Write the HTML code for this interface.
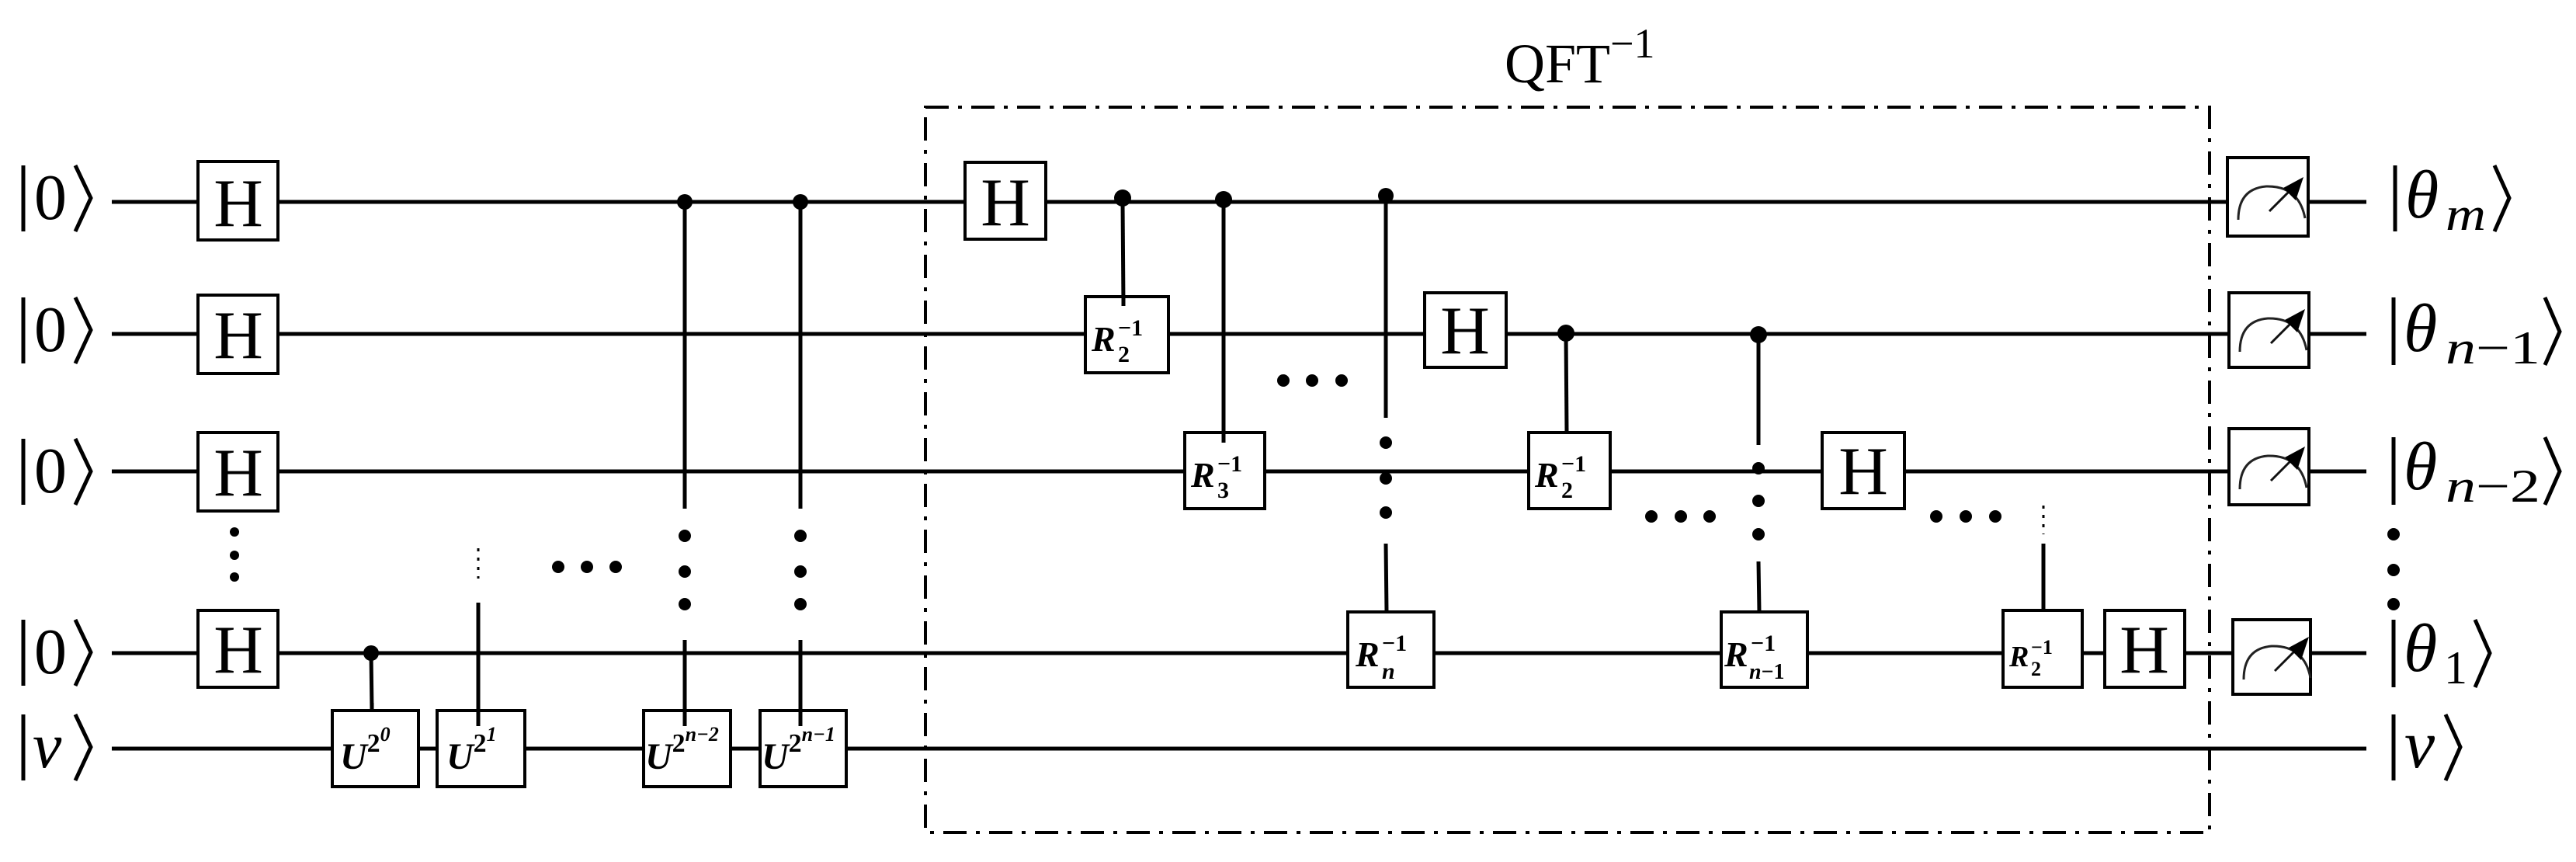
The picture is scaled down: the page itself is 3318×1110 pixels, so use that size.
<!DOCTYPE html>
<html><head><meta charset="utf-8"><style>
html,body{margin:0;padding:0;background:#fff;}
svg{display:block;}
.s{font-family:"Liberation Serif",serif;}
.m{font-family:"Liberation Serif",serif;font-style:italic;}
.b{font-family:"Liberation Serif",serif;font-style:italic;font-weight:bold;}
</style></head><body>
<svg width="3318" height="1110" viewBox="0 0 3318 1110" xmlns="http://www.w3.org/2000/svg">
<g stroke="#000" stroke-width="5" fill="none">
<line x1="144" y1="260" x2="3048" y2="260"/>
<line x1="144" y1="430" x2="3048" y2="430"/>
<line x1="144" y1="607" x2="3048" y2="607"/>
<line x1="144" y1="841" x2="3048" y2="841"/>
<line x1="144" y1="964" x2="3048" y2="964"/>
<line x1="478" y1="841" x2="479" y2="915"/>
<line x1="616" y1="776" x2="616" y2="925"/>
<line x1="882" y1="260" x2="882" y2="655"/>
<line x1="882" y1="824" x2="882" y2="925"/>
<line x1="1031" y1="260" x2="1031" y2="655"/>
<line x1="1031" y1="824" x2="1031" y2="925"/>
<line x1="1446" y1="260" x2="1447" y2="392"/>
<line x1="1576" y1="260" x2="1576" y2="567"/>
<line x1="1785" y1="252" x2="1785" y2="538"/>
<line x1="1785" y1="700" x2="1786" y2="788"/>
<line x1="2017" y1="430" x2="2018" y2="557"/>
<line x1="2265" y1="430" x2="2265" y2="573"/>
<line x1="2265" y1="723" x2="2266" y2="788"/>
<line x1="2632" y1="700" x2="2632" y2="786"/>
</g>
<g stroke="#000" stroke-width="3" stroke-dasharray="4 8" fill="none">
<line x1="616" y1="706" x2="616" y2="745"/>
<line x1="2632" y1="651" x2="2632" y2="688"/>
</g>
<rect x="1192" y="138" width="1654" height="934" fill="none" stroke="#000" stroke-width="4" stroke-dasharray="30 12 5 12"/>
<text x="1938" y="106" class="s" font-size="72">QFT<tspan dy="-32" font-size="54">−1</tspan></text>
<g fill="#fff" stroke="#000" stroke-width="4">
<rect x="255" y="208" width="103" height="101"/>
<rect x="255" y="380" width="103" height="101"/>
<rect x="255" y="557" width="103" height="101"/>
<rect x="255" y="786" width="103" height="99"/>
<rect x="428" y="915" width="111" height="98"/>
<rect x="563" y="915" width="113" height="98"/>
<rect x="829" y="915" width="112" height="98"/>
<rect x="979" y="915" width="111" height="98"/>
<rect x="1243" y="209" width="104" height="99"/>
<rect x="1398" y="382" width="107" height="98"/>
<rect x="1526" y="557" width="103" height="98"/>
<rect x="1736" y="788" width="111" height="97"/>
<rect x="1835" y="377" width="105" height="96"/>
<rect x="1969" y="557" width="105" height="98"/>
<rect x="2217" y="788" width="111" height="97"/>
<rect x="2347" y="557" width="106" height="98"/>
<rect x="2580" y="786" width="102" height="99"/>
<rect x="2711" y="786" width="103" height="99"/>
<rect x="2869" y="203" width="104" height="101"/>
<rect x="2871" y="377" width="103" height="96"/>
<rect x="2871" y="552" width="103" height="98"/>
<rect x="2876" y="798" width="100" height="96"/>
</g>
<g stroke="#000" stroke-width="5">
<line x1="479" y1="905" x2="479" y2="916"/>
<line x1="616" y1="905" x2="616" y2="935"/>
<line x1="882" y1="905" x2="882" y2="935"/>
<line x1="1031" y1="905" x2="1031" y2="935"/>
<line x1="1447" y1="380" x2="1447" y2="394"/>
<line x1="1576" y1="555" x2="1576" y2="570"/>
</g>
<g class="s" font-size="88" text-anchor="middle">
<text x="307" y="291">H</text>
<text x="307" y="461">H</text>
<text x="307" y="638">H</text>
<text x="307" y="866">H</text>
<text x="1295" y="290">H</text>
<text x="1887" y="455">H</text>
<text x="2400" y="636">H</text>
<text x="2762" y="866">H</text>
</g>
<g class="b" font-size="48">
<text x="438" y="990">U<tspan class="s" font-weight="bold" font-style="normal" font-size="34" dy="-22">2</tspan><tspan font-size="26" dy="-14">0</tspan></text>
<text x="575" y="990">U<tspan class="s" font-weight="bold" font-style="normal" font-size="34" dy="-22">2</tspan><tspan font-size="26" dy="-14">1</tspan></text>
<text x="831" y="990">U<tspan class="s" font-weight="bold" font-style="normal" font-size="34" dy="-22">2</tspan><tspan font-size="26" dy="-14">n−2</tspan></text>
<text x="981" y="990">U<tspan class="s" font-weight="bold" font-style="normal" font-size="34" dy="-22">2</tspan><tspan font-size="26" dy="-14">n−1</tspan></text>
</g>
<g class="b" font-size="46">
<text x="1406" y="452">R</text><text x="1440" y="466" font-size="30" font-style="normal">2</text><text x="1440" y="432" font-size="30" font-style="normal">−1</text>
<text x="1534" y="627">R</text><text x="1568" y="641" font-size="30" font-style="normal">3</text><text x="1568" y="607" font-size="30" font-style="normal">−1</text>
<text x="1746" y="858">R</text><text x="1780" y="874" font-size="30">n</text><text x="1780" y="838" font-size="30" font-style="normal">−1</text>
<text x="1977" y="627">R</text><text x="2011" y="641" font-size="30" font-style="normal">2</text><text x="2011" y="607" font-size="30" font-style="normal">−1</text>
<text x="2221" y="858">R</text><text x="2253" y="874" font-size="28">n<tspan font-style="normal">−1</tspan></text><text x="2255" y="838" font-size="30" font-style="normal">−1</text>
<text x="2588" y="858" font-size="38">R</text><text x="2616" y="870" font-size="26" font-style="normal">2</text><text x="2616" y="842" font-size="26" font-style="normal">−1</text>
</g>
<g fill="#000">
<circle cx="478" cy="841" r="10"/>
<circle cx="882" cy="260" r="10"/>
<circle cx="1031" cy="260" r="10"/>
<circle cx="1446" cy="255" r="11"/>
<circle cx="1576" cy="257" r="11"/>
<circle cx="1785" cy="252" r="10"/>
<circle cx="2017" cy="429" r="11"/>
<circle cx="2265" cy="431" r="11"/>
<circle cx="302" cy="685" r="6"/><circle cx="302" cy="715" r="6"/><circle cx="302" cy="743" r="6"/>
<circle cx="719" cy="730" r="8"/><circle cx="756" cy="730" r="8"/><circle cx="793" cy="730" r="8"/>
<circle cx="882" cy="690" r="8"/><circle cx="882" cy="736" r="8"/><circle cx="882" cy="778" r="8"/>
<circle cx="1031" cy="690" r="8"/><circle cx="1031" cy="736" r="8"/><circle cx="1031" cy="778" r="8"/>
<circle cx="1653" cy="490" r="8"/><circle cx="1690" cy="490" r="8"/><circle cx="1728" cy="490" r="8"/>
<circle cx="1785" cy="570" r="8"/><circle cx="1785" cy="616" r="8"/><circle cx="1785" cy="660" r="8"/>
<circle cx="2265" cy="603" r="8"/><circle cx="2265" cy="645" r="8"/><circle cx="2265" cy="688" r="8"/>
<circle cx="2127" cy="665" r="8"/><circle cx="2165" cy="665" r="8"/><circle cx="2202" cy="665" r="8"/>
<circle cx="2494" cy="665" r="8"/><circle cx="2532" cy="665" r="8"/><circle cx="2570" cy="665" r="8"/>
<circle cx="3083" cy="688" r="8"/><circle cx="3083" cy="734" r="8"/><circle cx="3083" cy="778" r="8"/>
</g>
<defs>
<g id="meter">
<path d="M14 80 Q14 40 50 37 Q92 36 100 78" fill="none" stroke="#222" stroke-width="3"/>
<line x1="54" y1="69" x2="86" y2="37" stroke="#111" stroke-width="3"/>
<polygon points="98,25 72,39 88,55" fill="#000"/>
</g>
</defs>
<use href="#meter" x="2869" y="203"/>
<use href="#meter" x="2871" y="373"/>
<use href="#meter" x="2871" y="550"/>
<use href="#meter" x="2876" y="795"/>
<g stroke="#000" stroke-width="5" fill="none">
<line x1="30" y1="213" x2="30" y2="298"/><polyline points="97,213 117,255 97,298"/>
<line x1="30" y1="383" x2="30" y2="468"/><polyline points="97,383 117,425 97,468"/>
<line x1="30" y1="565" x2="30" y2="650"/><polyline points="97,565 117,607 97,650"/>
<line x1="30" y1="798" x2="30" y2="883"/><polyline points="97,798 117,840 97,883"/>
<line x1="30" y1="920" x2="30" y2="1005"/><polyline points="97,920 117,962 97,1005"/>
</g>
<g class="s" font-size="84">
<text x="44" y="282">0</text>
<text x="44" y="452">0</text>
<text x="44" y="634">0</text>
<text x="44" y="867">0</text>
</g>
<text x="42" y="988" class="m" font-size="84">v</text>
<g stroke="#000" stroke-width="5" fill="none">
<line x1="3085" y1="213" x2="3085" y2="298"/><polyline points="3213,213 3232,255 3213,298"/>
<line x1="3083" y1="383" x2="3083" y2="470"/><polyline points="3278,383 3297,427 3278,470"/>
<line x1="3083" y1="563" x2="3083" y2="650"/><polyline points="3278,563 3297,607 3278,650"/>
<line x1="3083" y1="798" x2="3083" y2="885"/><polyline points="3188,798 3207,841 3188,885"/>
<line x1="3083" y1="920" x2="3083" y2="1005"/><polyline points="3150,920 3169,962 3150,1005"/>
</g>
<g class="m" font-size="88">
<text x="3098" y="280">θ</text>
<text x="3096" y="452">θ</text>
<text x="3096" y="630">θ</text>
<text x="3096" y="864">θ</text>
<text x="3097" y="988">v</text>
</g>
<g class="m" font-size="60">
<text x="3150" y="296" textLength="52" lengthAdjust="spacingAndGlyphs">m</text>
<text x="3150" y="468" textLength="122" lengthAdjust="spacingAndGlyphs">n<tspan class="s" font-style="normal">−1</tspan></text>
<text x="3150" y="646" textLength="122" lengthAdjust="spacingAndGlyphs">n<tspan class="s" font-style="normal">−2</tspan></text>
<text x="3148" y="880" class="s" font-style="normal">1</text>
</g>
</svg>
</body></html>
